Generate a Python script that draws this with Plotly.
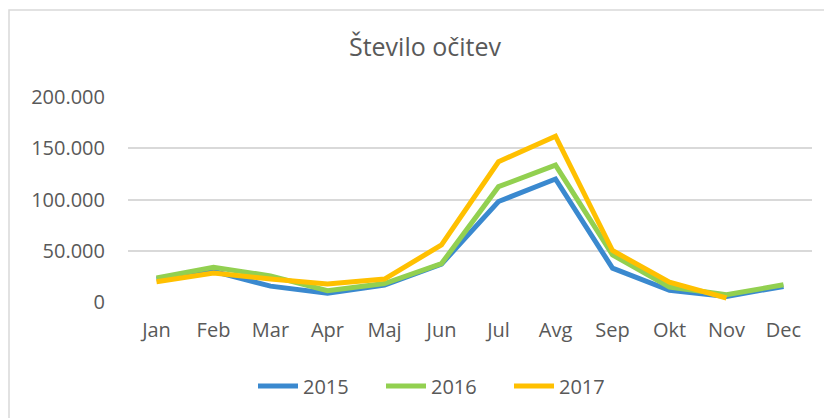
import plotly.graph_objects as go

months = ["Jan", "Feb", "Mar", "Apr", "Maj", "Jun", "Jul", "Avg", "Sep", "Okt", "Nov", "Dec"]
y2015 = [22500, 30000, 15500, 8500, 16500, 37000, 98000, 120000, 33000, 11300, 5500, 15200]
y2016 = [23500, 33800, 25500, 11000, 18000, 37500, 112500, 133500, 46000, 14600, 7100, 16800]
y2017 = [19800, 28200, 22400, 17500, 22400, 55700, 136800, 161800, 50200, 19400, 3900, None]
series = [("2015", y2015, "#3A89CF"), ("2016", y2016, "#92D050"), ("2017", y2017, "#FFC000")]
yticks = [0, 50000, 100000, 150000, 200000]

fig = go.Figure()
for name, vals, col in series:
    fig.add_trace(go.Scatter(x=months, y=vals, name=name, mode="lines",
                             line=dict(color=col, width=5), connectgaps=False))

font_fam = "Open Sans, Noto Sans, sans-serif"
OFF = 8  # default body margin of the html page
W, H = 832 - OFF, 418 - OFF
l, r, t, b = 128 - OFF, 20, 97 - OFF, 116
ph = H - t - b
pw = W - l - r
fig.update_layout(
    width=W, height=H,
    margin=dict(l=l, r=r, t=t, b=b),
    paper_bgcolor="white", plot_bgcolor="white",
    separators=",.",
    font=dict(family=font_fam, color="#595959", size=20),
    title=dict(text="Število očitev", x=(425 - OFF) / W, xanchor="center", y=1 - (47 - OFF) / H,
               yanchor="middle", yref="container",
               font=dict(size=25, color="#595959", family=font_fam)),
    showlegend=True,
    legend=dict(orientation="h", x=(445 - 128) / pw, xanchor="center",
                y=-(386 - 302) / ph, yanchor="middle",
                font=dict(size=20, color="#595959"), itemwidth=40,
                entrywidth=73, entrywidthmode="pixels", traceorder="normal"),
    xaxis=dict(showgrid=False, showline=False, zeroline=False, ticks="",
               range=[-0.5, 11.5],
               tickfont=dict(size=20, color="#595959"), ticklabelstandoff=14, fixedrange=True),
    yaxis=dict(range=[0, 200000], tickvals=yticks, tickformat=",d", showgrid=True,
               gridcolor="#D9D9D9", gridwidth=1.5, zeroline=False, showline=False, ticks="",
               tickfont=dict(size=20, color="#595959"), ticklabelstandoff=22, fixedrange=True),
    shapes=[dict(type="rect", xref="paper", yref="paper",
                 x0=(9 - 128) / pw, x1=1.5, y0=-1.0, y1=(302 - 10) / ph,
                 line=dict(color="#D9D9D9", width=1.5), fillcolor="rgba(0,0,0,0)", layer="below")],
)
fig.write_html("out.html")
